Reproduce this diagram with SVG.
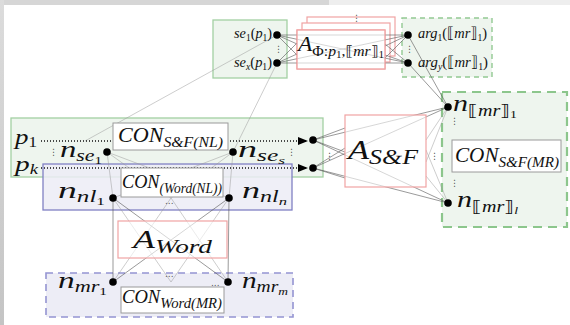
<svg xmlns="http://www.w3.org/2000/svg" width="570" height="325" viewBox="0 0 570 325">
<style>
  .m { font-family: "Liberation Serif", "DejaVu Sans", serif; font-style: italic; fill: #111; }
  .r { font-style: normal; }
  .dots { font-family: "DejaVu Sans", sans-serif; font-size: 9px; fill: #555; }
  .gbox { fill: #eef5ee; stroke: #a3d0a3; stroke-width: 1.3; }
  .gdash { fill: #eef5ee; stroke: #93c993; stroke-width: 1.4; stroke-dasharray: 5 4; }
  .gdash2 { fill: #eef5ee; stroke: #8cc68c; stroke-width: 2.2; stroke-dasharray: 9 6; }
  .bbox { fill: #ececf6; fill-opacity: 0.85; stroke: #8080c4; stroke-width: 1.3; }
  .bdash { fill: #ededf6; stroke: #9494d2; stroke-width: 1.6; stroke-dasharray: 7 5; }
  .con { fill: #fff; stroke: #9a9a9a; stroke-width: 1; }
  .agent { fill: #fff; fill-opacity: 0.6; stroke: #f0a3a3; stroke-width: 1.2; }
  .agentSolid { fill: #fff; stroke: #f0a3a3; stroke-width: 1.2; }
  .ln { stroke: #555; stroke-width: 0.8; stroke-opacity: 0.75; fill: none; }
  .lt { stroke: #999; stroke-width: 0.7; stroke-opacity: 0.7; fill: none; }
  .dotted { stroke: #111; stroke-width: 1.3; stroke-dasharray: 1 2; fill: none; }
  .nd { fill: #000; }
</style>
<defs>
  <marker id="arrow" viewBox="0 0 10 8" refX="10" refY="4" markerWidth="10" markerHeight="8" markerUnits="userSpaceOnUse" orient="auto">
    <path d="M0,0 L10,4 L0,8 Z" fill="#000"/>
  </marker>
  <linearGradient id="side" x1="0" y1="0" x2="0" y2="1">
    <stop offset="0" stop-color="#dcdcdc"/>
    <stop offset="1" stop-color="#c4c4c4"/>
  </linearGradient>
</defs>

<!-- page edge -->
<g id="frame">
  <rect x="0" y="0" width="570" height="325" fill="#fff"/>
  <rect x="0" y="0" width="329" height="5" fill="#d6d6d6"/>
  <rect x="329" y="0" width="241" height="5" fill="#eeeeee"/>
  <rect x="0" y="0" width="4" height="325" fill="url(#side)"/>
</g>

<!-- containers -->
<g id="se-box"><rect class="gbox" x="213" y="20" width="74" height="58"/></g>
<g id="arg-box"><rect class="gdash" x="402" y="18" width="90" height="59"/></g>
<g id="nl-sf-box"><rect class="gbox" x="11" y="118" width="312" height="59"/></g>
<g id="nl-word-box"><rect class="bbox" x="43" y="164" width="249" height="46"/></g>
<g id="mr-word-box"><rect class="bdash" x="46" y="273" width="247" height="44"/></g>
<g id="mr-sf-box"><rect class="gdash2" x="442" y="92" width="125" height="135"/></g>

<!-- agent stack behind the connectors -->
<g id="agent-phi-stack">
  <rect class="agentSolid" x="307" y="17" width="88" height="39"/>
  <rect class="agentSolid" x="302" y="23" width="88" height="39"/>
  <rect class="agentSolid" x="297" y="30" width="88" height="39"/>
</g>

<!-- connectors -->
<g id="connectors">
  <!-- structural elements to arguments -->
  <line class="ln" x1="277" y1="35" x2="408" y2="35"/>
  <line class="ln" x1="277" y1="35" x2="408" y2="63"/>
  <line class="ln" x1="277" y1="63" x2="408" y2="35"/>
  <line class="ln" x1="277" y1="63" x2="408" y2="63"/>
  <line class="ln" x1="277" y1="35" x2="297" y2="44"/>
  <line class="ln" x1="277" y1="35" x2="297" y2="55"/>
  <line class="ln" x1="277" y1="63" x2="297" y2="43"/>
  <line class="ln" x1="277" y1="63" x2="297" y2="54"/>
  <line class="ln" x1="408" y1="35" x2="385" y2="46"/>
  <line class="ln" x1="408" y1="35" x2="385" y2="58"/>
  <line class="ln" x1="408" y1="63" x2="385" y2="44"/>
  <line class="ln" x1="408" y1="63" x2="385" y2="55"/>
  <!-- links down to the sentence band and to the meaning nodes -->
  <line class="lt" x1="277" y1="35" x2="85" y2="141"/>
  <line class="lt" x1="277" y1="63" x2="233" y2="152"/>
  <line class="ln" x1="408" y1="35" x2="448" y2="107"/>
  <line class="ln" x1="408" y1="63" x2="448" y2="107"/>

  <!-- dotted input arrows -->
  <line class="dotted" x1="41" y1="141" x2="308" y2="141" marker-end="url(#arrow)"/>
  <line class="dotted" x1="41" y1="168" x2="308" y2="168" marker-end="url(#arrow)"/>

  <!-- S&F agent fan -->
  <line class="ln" x1="313" y1="140" x2="448" y2="107"/>
  <line class="ln" x1="313" y1="140" x2="448" y2="203"/>
  <line class="ln" x1="313" y1="168" x2="448" y2="107"/>
  <line class="ln" x1="313" y1="168" x2="448" y2="203"/>
  <line class="ln" x1="313" y1="140" x2="345" y2="128"/>
  <line class="ln" x1="313" y1="140" x2="345" y2="152"/>
  <line class="ln" x1="313" y1="168" x2="345" y2="148"/>
  <line class="ln" x1="313" y1="168" x2="345" y2="178"/>
  <line class="lt" x1="448" y1="107" x2="426" y2="140"/>
  <line class="lt" x1="448" y1="107" x2="426" y2="162"/>
  <line class="lt" x1="448" y1="203" x2="426" y2="150"/>
  <line class="lt" x1="448" y1="203" x2="426" y2="176"/>

  <!-- sentence elements to word nodes -->
  <line class="lt" x1="107" y1="152" x2="113" y2="198"/>
  <line class="lt" x1="107" y1="152" x2="229" y2="198"/>
  <line class="lt" x1="107" y1="152" x2="171" y2="198"/>
  <line class="lt" x1="233" y1="152" x2="113" y2="198"/>
  <line class="lt" x1="233" y1="152" x2="229" y2="198"/>
  <line class="lt" x1="233" y1="152" x2="171" y2="198"/>

  <!-- word agent fan -->
  <line class="ln" x1="113" y1="198" x2="113" y2="282"/>
  <line class="ln" x1="229" y1="198" x2="228" y2="282"/>
  <line class="ln" x1="113" y1="198" x2="228" y2="282"/>
  <line class="ln" x1="229" y1="198" x2="113" y2="282"/>
  <line class="lt" x1="113" y1="198" x2="171" y2="282"/>
  <line class="lt" x1="229" y1="198" x2="171" y2="282"/>
  <line class="lt" x1="113" y1="282" x2="171" y2="198"/>
  <line class="lt" x1="228" y1="282" x2="171" y2="198"/>
</g>

<!-- agents -->
<g id="agent-phi">
  <rect class="agent" x="297" y="30" width="88" height="39"/>
  <text class="m" font-size="21" x="298" y="51" textLength="86" lengthAdjust="spacingAndGlyphs">A<tspan class="r" font-size="14" dy="5">Φ:</tspan><tspan font-size="14">p</tspan><tspan class="r" font-size="10" dy="2">1</tspan><tspan class="r" font-size="14" dy="-2">,⟦</tspan><tspan font-size="14">mr</tspan><tspan class="r" font-size="14">⟧</tspan><tspan class="r" font-size="10" dy="2">1</tspan></text>
  <text class="dots" x="352" y="21">⋮</text>
</g>
<g id="agent-sf">
  <rect class="agent" x="345" y="115" width="81" height="72"/>
  <text class="m" font-size="28" x="348" y="159" textLength="70" lengthAdjust="spacingAndGlyphs">A<tspan font-size="21" dy="5">S&amp;F</tspan></text>
</g>
<g id="agent-word">
  <rect class="agent" x="118" y="221" width="109" height="37"/>
  <text class="m" font-size="25" x="133" y="248" textLength="79" lengthAdjust="spacingAndGlyphs">A<tspan font-size="19" dy="5">Word</tspan></text>
</g>

<!-- concept boxes -->
<g id="con-sf-nl">
  <rect class="con" x="113" y="123" width="115" height="27"/>
  <text class="m" font-size="21" x="118" y="142" textLength="105" lengthAdjust="spacingAndGlyphs">CON<tspan font-size="15" dy="5">S&amp;F(NL)</tspan></text>
</g>
<g id="con-word-nl">
  <rect class="con" x="121" y="168" width="102" height="29"/>
  <text class="m" font-size="19" x="122" y="188" textLength="100" lengthAdjust="spacingAndGlyphs">CON<tspan font-size="14" dy="5">(Word(NL))</tspan></text>
  <text class="dots" x="165" y="204" font-size="7">...</text>
</g>
<g id="con-word-mr">
  <rect class="con" x="121" y="287" width="103" height="26"/>
  <text class="m" font-size="19" x="122" y="303" textLength="100" lengthAdjust="spacingAndGlyphs">CON<tspan font-size="15" dy="5">Word(MR)</tspan></text>
  <text class="dots" x="165" y="277" font-size="7">...</text>
  <text class="dots" x="211" y="286" font-size="7">...</text>
</g>
<g id="con-sf-mr">
  <rect class="con" x="452" y="140" width="109" height="32"/>
  <text class="m" font-size="21" x="455" y="162" textLength="104" lengthAdjust="spacingAndGlyphs">CON<tspan font-size="15" dy="5">S&amp;F(MR)</tspan></text>
</g>

<!-- structural element nodes -->
<g id="se-nodes">
  <circle class="nd" cx="277" cy="35" r="3.8"/>
  <circle class="nd" cx="277" cy="63" r="3.8"/>
  <text class="m" font-size="15" x="234" y="38" textLength="38" lengthAdjust="spacingAndGlyphs">se<tspan class="r" font-size="10" dy="3">1</tspan><tspan class="r" dy="-3">(</tspan>p<tspan class="r" font-size="10" dy="3">1</tspan><tspan class="r" dy="-3">)</tspan></text>
  <text class="m" font-size="15" x="234" y="67" textLength="38" lengthAdjust="spacingAndGlyphs">se<tspan font-size="10" dy="3">x</tspan><tspan class="r" dy="-3">(</tspan>p<tspan class="r" font-size="10" dy="3">1</tspan><tspan class="r" dy="-3">)</tspan></text>
  <text class="dots" x="274" y="52">⋮</text>
</g>
<g id="arg-nodes">
  <circle class="nd" cx="408" cy="35" r="3.8"/>
  <circle class="nd" cx="408" cy="63" r="3.8"/>
  <text class="m" font-size="15" x="418" y="38" textLength="69" lengthAdjust="spacingAndGlyphs">arg<tspan class="r" font-size="10" dy="3">1</tspan><tspan class="r" dy="-3">(⟦</tspan>mr<tspan class="r">⟧</tspan><tspan class="r" font-size="10" dy="3">1</tspan><tspan class="r" dy="-3">)</tspan></text>
  <text class="m" font-size="15" x="418" y="67" textLength="70" lengthAdjust="spacingAndGlyphs">arg<tspan font-size="10" dy="3">y</tspan><tspan class="r" dy="-3">(⟦</tspan>mr<tspan class="r">⟧</tspan><tspan class="r" font-size="10" dy="3">1</tspan><tspan class="r" dy="-3">)</tspan></text>
  <text class="dots" x="405" y="52">⋮</text>
</g>

<!-- sentence band nodes -->
<g id="p-inputs">
  <text class="m" font-size="22" x="15" y="144" textLength="22" lengthAdjust="spacingAndGlyphs">p<tspan class="r" font-size="14" dy="3">1</tspan></text>
  <text class="m" font-size="22" x="15" y="171" textLength="23" lengthAdjust="spacingAndGlyphs">p<tspan font-size="14" dy="3">k</tspan></text>
  <circle class="nd" cx="313" cy="140" r="3.8"/>
  <circle class="nd" cx="313" cy="168" r="3.8"/>
  <text class="dots" x="325" y="159">⋮</text>
</g>
<g id="n-se1">
  <text class="dots" x="49" y="155">⋮</text>
  <text class="m" font-size="24" x="60" y="157" textLength="42" lengthAdjust="spacingAndGlyphs">n<tspan font-size="16" dy="4">se</tspan><tspan class="r" font-size="11" dy="3">1</tspan></text>
  <circle class="nd" cx="107" cy="152" r="3.8"/>
</g>
<g id="n-ses">
  <circle class="nd" cx="233" cy="152" r="3.8"/>
  <text class="m" font-size="24" x="238" y="157" textLength="47" lengthAdjust="spacingAndGlyphs">n<tspan font-size="16" dy="4">se</tspan><tspan font-size="11" dy="3">s</tspan></text>
  <text class="dots" x="287" y="155">⋮</text>
</g>

<!-- word nodes -->
<g id="n-nl1">
  <text class="m" font-size="24" x="58" y="198" textLength="47" lengthAdjust="spacingAndGlyphs">n<tspan font-size="16" dy="4">nl</tspan><tspan class="r" font-size="11" dy="3">1</tspan></text>
  <circle class="nd" cx="113" cy="198" r="3.8"/>
</g>
<g id="n-nln">
  <circle class="nd" cx="229" cy="198" r="3.8"/>
  <text class="m" font-size="24" x="242" y="198" textLength="45" lengthAdjust="spacingAndGlyphs">n<tspan font-size="16" dy="4">nl</tspan><tspan font-size="11" dy="3">n</tspan></text>
</g>
<g id="n-mr1">
  <text class="m" font-size="24" x="58" y="288" textLength="49" lengthAdjust="spacingAndGlyphs">n<tspan font-size="16" dy="4">mr</tspan><tspan class="r" font-size="11" dy="3">1</tspan></text>
  <circle class="nd" cx="113" cy="282" r="3.8"/>
</g>
<g id="n-mrm">
  <circle class="nd" cx="228" cy="282" r="3.8"/>
  <text class="m" font-size="24" x="242" y="288" textLength="46" lengthAdjust="spacingAndGlyphs">n<tspan font-size="16" dy="4">mr</tspan><tspan font-size="11" dy="3">m</tspan></text>
</g>

<!-- meaning representation nodes -->
<g id="n-mr-first">
  <circle class="nd" cx="448" cy="107" r="3.8"/>
  <text class="m" font-size="24" x="453" y="111" textLength="64" lengthAdjust="spacingAndGlyphs">n<tspan class="r" font-size="16" dy="5">⟦</tspan><tspan font-size="16">mr</tspan><tspan class="r" font-size="16">⟧</tspan><tspan class="r" font-size="11" dy="2">1</tspan></text>
  <text class="dots" x="450" y="124">⋮</text>
</g>
<g id="n-mr-last">
  <circle class="nd" cx="448" cy="203" r="3.8"/>
  <text class="m" font-size="24" x="457" y="207" textLength="61" lengthAdjust="spacingAndGlyphs">n<tspan class="r" font-size="16" dy="5">⟦</tspan><tspan font-size="16">mr</tspan><tspan class="r" font-size="16">⟧</tspan><tspan font-size="11" dy="2">l</tspan></text>
  <text class="dots" x="450" y="186">⋮</text>
</g>
<g id="sf-gap"><text class="dots" x="430" y="159">⋮</text></g>
</svg>
